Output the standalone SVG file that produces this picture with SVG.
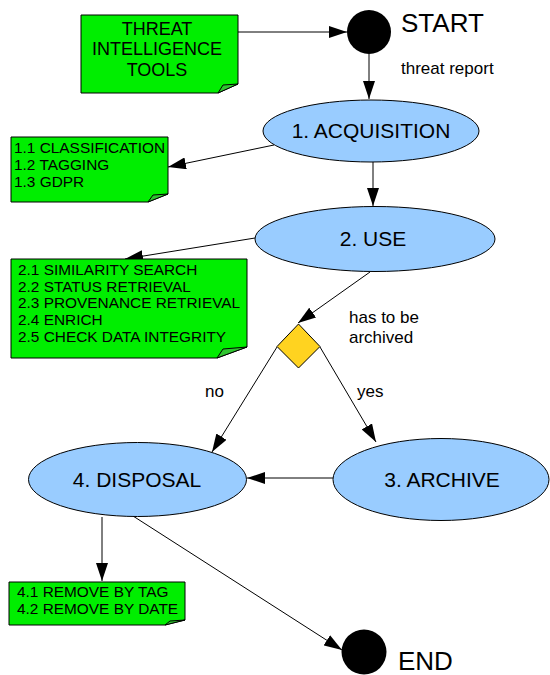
<svg xmlns="http://www.w3.org/2000/svg" width="550" height="675" viewBox="0 0 550 675">
  <style>
    text { font-family: "Liberation Sans", Arial, sans-serif; fill: #000; }
    .note { fill: #00ee00; stroke: #000; stroke-width: 1; }
    .fold { fill: #2fc42f; stroke: #000; stroke-width: 1; stroke-linejoin: round; }
    .phase { fill: #99ccff; stroke: #000; stroke-width: 1; }
    .terminal { fill: #000; }
    .decision { fill: #ffd320; stroke: #000; stroke-width: 1; }
    .edge { fill: none; stroke: #000; stroke-width: 1; marker-end: url(#arrow); }
    .title { font-size: 21px; text-anchor: middle; }
    .item { font-size: 15.4px; }
    .label { font-size: 17px; }
    .big { font-size: 26px; }
  </style>
  <defs>
    <marker id="arrow" viewBox="0 0 18 12" refX="18" refY="6" markerWidth="18" markerHeight="12" markerUnits="userSpaceOnUse" orient="auto">
      <path d="M0,0 L18,6 L0,12 Z" fill="#000"/>
    </marker>
  </defs>

  <rect width="550" height="675" fill="#fff"/>

  <!-- connectors -->
  <g id="connectors">
    <path class="edge" d="M238,32 H347"/>
    <path class="edge" d="M369,54 V99"/>
    <path class="edge" d="M274,145 L168,167"/>
    <path class="edge" d="M373,162 V206"/>
    <path class="edge" d="M255,238 L125,259"/>
    <path class="edge" d="M370,272 L298,323"/>
    <path class="edge" d="M277,347 L212,452"/>
    <path class="edge" d="M320,347 L376,442"/>
    <path class="edge" d="M333,478 H247"/>
    <path class="edge" d="M102,517 V581"/>
    <path class="edge" d="M133,516 L342,650"/>
  </g>

  <!-- edge labels -->
  <g id="edge-labels">
    <text class="label" x="401" y="74">threat report</text>
    <text class="label" x="349" y="323">has to be</text>
    <text class="label" x="349" y="343">archived</text>
    <text class="label" x="205" y="397">no</text>
    <text class="label" x="357" y="397">yes</text>
  </g>

  <!-- source note -->
  <g id="tools">
    <path class="note" d="M81,15 H238 V84 L218,93 H81 Z"/>
    <path class="fold" d="M218,93 L223,85 L238,84 Z"/>
    <text font-size="18" text-anchor="middle" x="157" y="35">THREAT</text>
    <text font-size="18" text-anchor="middle" x="157" y="55">INTELLIGENCE</text>
    <text font-size="18" text-anchor="middle" x="157" y="76">TOOLS</text>
  </g>

  <!-- start / end -->
  <g id="start">
    <circle class="terminal" cx="369" cy="32" r="22"/>
    <text class="big" x="401" y="32">START</text>
  </g>
  <g id="end">
    <circle class="terminal" cx="364" cy="652" r="22.5"/>
    <text class="big" x="398" y="670">END</text>
  </g>

  <!-- lifecycle phases -->
  <g id="acquisition">
    <ellipse class="phase" cx="371" cy="131" rx="108" ry="31"/>
    <text class="title" x="371" y="138">1. ACQUISITION</text>
  </g>
  <g id="use">
    <ellipse class="phase" cx="375" cy="239" rx="120" ry="32.5"/>
    <text class="title" x="373" y="246">2. USE</text>
  </g>
  <g id="archive">
    <ellipse class="phase" cx="441" cy="479.5" rx="108" ry="41"/>
    <text class="title" x="442" y="487">3. ARCHIVE</text>
  </g>
  <g id="disposal">
    <ellipse class="phase" cx="137.5" cy="479.5" rx="109" ry="37"/>
    <text class="title" x="137" y="487">4. DISPOSAL</text>
  </g>

  <!-- decision -->
  <g id="decision">
    <path class="decision" d="M298.5,324 L320,346.5 L298.5,368 L277,346.5 Z"/>
  </g>

  <!-- task notes -->
  <g id="acquisition-tasks">
    <path class="note" d="M11,137 H168 V194 L148,202 H11 Z"/>
    <path class="fold" d="M148,202 L153,195 L168,194 Z"/>
    <text class="item" x="14" y="153">1.1 CLASSIFICATION</text>
    <text class="item" x="14" y="170">1.2 TAGGING</text>
    <text class="item" x="14" y="187">1.3 GDPR</text>
  </g>
  <g id="use-tasks">
    <path class="note" d="M11,259 H247 V347 L217,358 H11 Z"/>
    <path class="fold" d="M217,358 L223,349 L247,347 Z"/>
    <text class="item" x="18" y="275">2.1 SIMILARITY SEARCH</text>
    <text class="item" x="18" y="292">2.2 STATUS RETRIEVAL</text>
    <text class="item" x="18" y="308">2.3 PROVENANCE RETRIEVAL</text>
    <text class="item" x="18" y="325">2.4 ENRICH</text>
    <text class="item" x="18" y="342">2.5 CHECK DATA INTEGRITY</text>
  </g>
  <g id="disposal-tasks">
    <path class="note" d="M9,582 H185 V620 L165,625 H9 Z"/>
    <path class="fold" d="M165,625 L170,621 L185,620 Z"/>
    <text class="item" x="17" y="597">4.1 REMOVE BY TAG</text>
    <text class="item" x="17" y="614">4.2 REMOVE BY DATE</text>
  </g>
</svg>
